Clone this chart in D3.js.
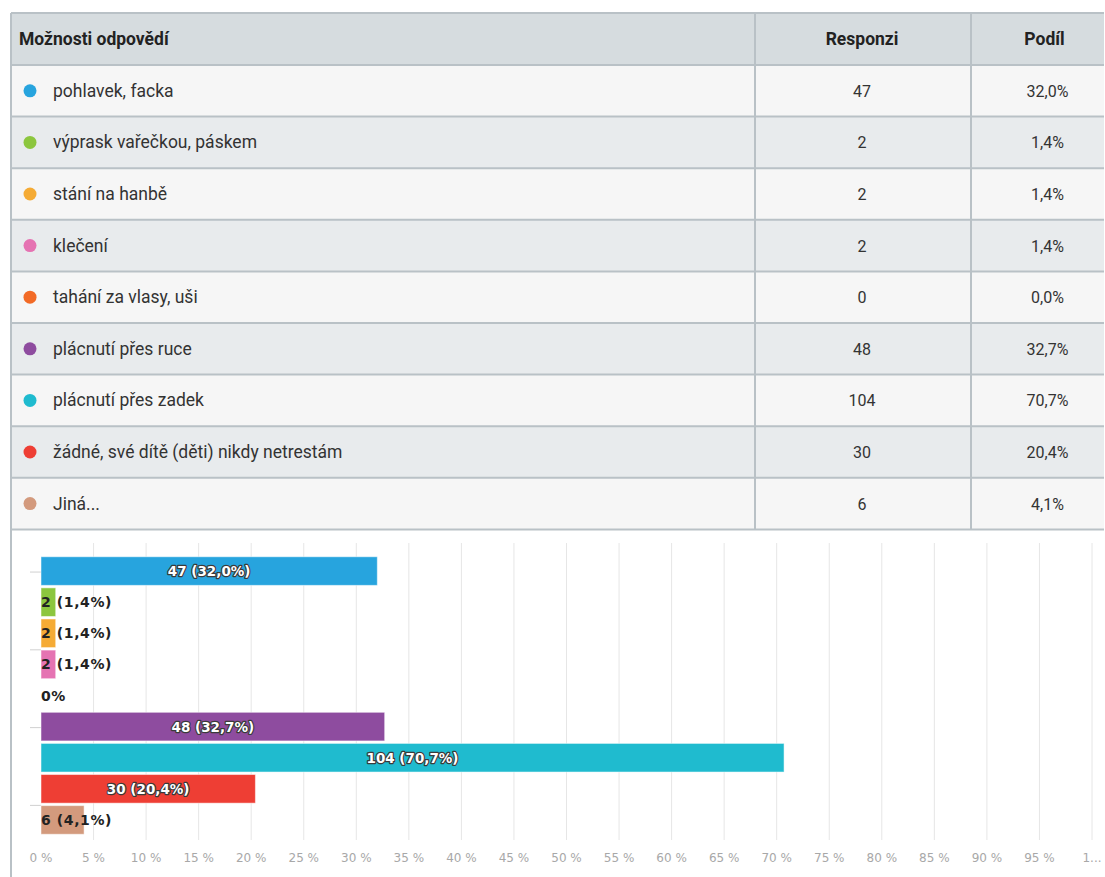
<!DOCTYPE html>
<html><head><meta charset="utf-8">
<script src="https://cdn.jsdelivr.net/npm/d3@7"></script>
<style>
body{margin:0;background:#fff;}
svg{display:block;}
</style></head>
<body>
<svg id="c" width="1105" height="877"></svg>
<script>
const categories = ["pohlavek, facka","výprask vařečkou, páskem","stání na hanbě","klečení","tahání za vlasy, uši","plácnutí přes ruce","plácnutí přes zadek","žádné, své dítě (děti) nikdy netrestám","Jiná..."];
const responses = [47,2,2,2,0,48,104,30,6];
const shares = [32.0,1.4,1.4,1.4,0.0,32.7,70.7,20.4,4.1];
const colors = ["#27a4de","#8cc63e","#f5ab35","#e573b2","#f26a26","#8e4c9f","#1fbbcf","#ee3e34","#d39a7d"];
const headers = ["Možnosti odpovědí","Responzi","Podíl"];
const xTicks = [0,5,10,15,20,25,30,35,40,45,50,55,60,65,70,75,80,85,90,95,100];
const yTickPos = [0,2.5,5,7.5];

const fmt = v => d3.format(".1f")(v).replace(".", ",");
const svg = d3.select("#c");
const tableFont = "'Roboto',sans-serif";

// Table
const tLeft = 11, tRight = 1104, col1 = 755, col2 = 971;
const headTop = 13, headBot = 65, rowH = 51.6;
const yRow = d3.scaleLinear().domain([0, categories.length]).range([headBot, headBot + rowH*categories.length]);

svg.append("rect").attr("x", tLeft).attr("y", headTop).attr("width", tRight - tLeft).attr("height", headBot - headTop).attr("fill", "#d6dcdf");
categories.forEach((c,i)=>{
  svg.append("rect").attr("x", tLeft).attr("y", yRow(i)).attr("width", tRight - tLeft).attr("height", rowH)
    .attr("fill", i % 2 === 0 ? "#f6f6f6" : "#e8ebed");
});
const bc = "#b9c1c6";
const hl = [headTop, headBot].concat(d3.range(1, categories.length+1).map(i=>yRow(i)));
hl.forEach(y=>svg.append("line").attr("x1",tLeft).attr("x2",tRight).attr("y1",y).attr("y2",y).attr("stroke",bc).attr("stroke-width",2));
[col1,col2].forEach(x=>svg.append("line").attr("x1",x).attr("x2",x).attr("y1",headTop).attr("y2",yRow(categories.length)).attr("stroke",bc).attr("stroke-width",2));
svg.append("line").attr("x1",tLeft).attr("x2",tLeft).attr("y1",headTop).attr("y2",877).attr("stroke",bc).attr("stroke-width",2);

const hy = (headTop+headBot)/2 + 6;
const hdr = (xx, anchor, t) => svg.append("text").attr("x", xx).attr("y", hy).attr("text-anchor", anchor).text(t)
  .attr("font-family", tableFont).attr("font-weight","bold").attr("font-size",17.5).attr("fill","#222");
hdr(19, "start", headers[0]);
hdr((col1+col2)/2 - 1, "middle", headers[1]);
hdr((col2+tRight)/2 + 7, "middle", headers[2]);

categories.forEach((c,i)=>{
  const cy = yRow(i) + rowH/2;
  svg.append("circle").attr("cx", 30).attr("cy", cy).attr("r", 6.5).attr("fill", colors[i]);
  svg.append("text").attr("x", 53).attr("y", cy+6).text(c).attr("font-family", tableFont).attr("font-size",17.5).attr("fill","#333");
  svg.append("text").attr("x", (col1+col2)/2 - 1).attr("y", cy+6).attr("text-anchor","middle").text(responses[i]).attr("font-family", tableFont).attr("font-size",16).attr("fill","#333");
  svg.append("text").attr("x", (col2+tRight)/2 + 10).attr("y", cy+6).attr("text-anchor","middle").text(fmt(shares[i])+"%").attr("font-family", tableFont).attr("font-size",16).attr("fill","#333");
});

// Chart
const x = d3.scaleLinear().domain([0,100]).range([41,1092]);
const y = d3.scaleBand().domain(d3.range(categories.length)).range([555.5, 835.5]).paddingInner(0.08).paddingOuter(0.04);
const yc = d3.scaleLinear().domain([0,1]).range([y(0)+y.bandwidth()/2, y(1)+y.bandwidth()/2]);

const g = svg.append("g");
g.selectAll(".grid").data(xTicks.slice(1)).join("line")
  .attr("x1", d=>x(d)).attr("x2", d=>x(d)).attr("y1", 543).attr("y2", 840)
  .attr("stroke", "#e6e6e6").attr("stroke-width", 1);
g.selectAll(".yt").data(yTickPos).join("line")
  .attr("x1", 30).attr("x2", 41).attr("y1", d=>yc(d)+1).attr("y2", d=>yc(d)+1)
  .attr("stroke","#d0d0d0");

g.selectAll(".bar").data(shares).join("rect")
  .attr("x", x(0)).attr("y", (d,i)=>y(i)).attr("width", d=>x(d)-x(0)).attr("height", y.bandwidth())
  .attr("fill", (d,i)=>colors[i]).attr("stroke","rgba(255,255,255,0.5)").attr("stroke-width",1);

const labFont = "'DejaVu Sans',sans-serif";
shares.forEach((d,i)=>{
  const lab = d === 0 ? "0%" : responses[i] + " (" + fmt(d) + "%)";
  const w = x(d) - x(0);
  const cy = y(i) + y.bandwidth()/2 + 5;
  if (w > 90) {
    g.append("text").attr("x", x(0)+w/2).attr("y", cy).attr("text-anchor","middle").text(lab)
      .attr("font-family", labFont).attr("font-weight","bold").attr("font-size",13.5)
      .attr("fill","#fff").attr("stroke","#3a3a3a").attr("stroke-width",2.4).attr("paint-order","stroke").attr("stroke-linejoin","round");
  } else {
    g.append("text").attr("x", x(0)).attr("y", cy).text(lab)
      .attr("font-family", labFont).attr("font-weight","bold").attr("font-size",14).attr("letter-spacing",0.6).attr("fill","#222");
  }
});

g.selectAll(".xl").data(xTicks).join("text")
  .attr("x", d=>x(d)).attr("y", 862).attr("text-anchor","middle")
  .text(d=> d===100 ? "1..." : d + " %")
  .attr("font-family", labFont).attr("font-size",12).attr("fill","#a8a8a8");
</script>
</body></html>
